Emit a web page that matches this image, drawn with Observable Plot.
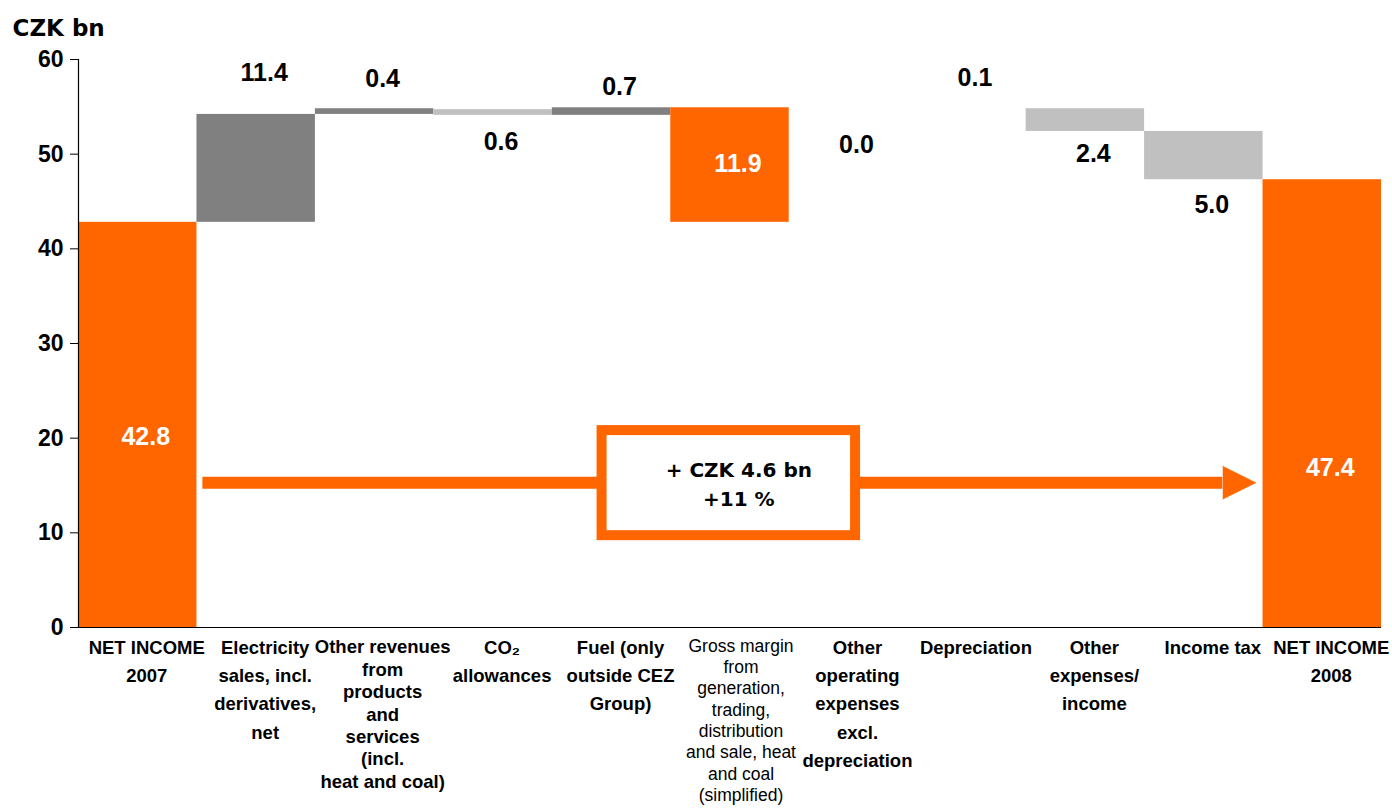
<!DOCTYPE html>
<html><head><meta charset="utf-8">
<script src="https://cdn.jsdelivr.net/npm/d3@7"></script>
<script src="https://cdn.jsdelivr.net/npm/@observablehq/plot@0.6"></script>
<style>
html,body{margin:0;padding:0;background:#fff;}
#chart svg{display:block;}
</style></head><body><div id="chart"></div>
<script>
// ---- data ----
const categories = [
  "NET INCOME\n2007",
  "Electricity\nsales, incl.\nderivatives,\nnet",
  "Other revenues\nfrom\nproducts\nand\nservices\n(incl.\nheat and coal)",
  "CO\u2082\nallowances",
  "Fuel (only\noutside CEZ\nGroup)",
  "Gross margin\nfrom\ngeneration,\ntrading,\ndistribution\nand sale, heat\nand coal\n(simplified)",
  "Other\noperating\nexpenses\nexcl.\ndepreciation",
  "Depreciation",
  "Other\nexpenses/\nincome",
  "Income tax",
  "NET INCOME\n2008"
];
const kinds = ["total","increase","increase","decrease","increase","total","none","none","decrease","decrease","total"];
const barLow  = [0,    42.8, 54.2, 54.1, 54.1, 42.8, null, null, 52.4, 47.3, 0];
const barHigh = [42.8, 54.2, 54.8, 54.7, 54.9, 54.9, null, null, 54.8, 52.4, 47.3];
const valueLabels = ["42.8","11.4","0.4","0.6","0.7","11.9","0.0","0.1","2.4","5.0","47.4"];
const labelY = [20.1, 58.6, 57.9, 51.3, 57.1, 49.0, 51.0, 58.0, 50.0, 44.6, 16.8];
const yTicks = [0, 10, 20, 30, 40, 50, 60];
const unitLabel = "CZK bn";
const changeLines = ["+ CZK 4.6 bn", "+11 %"];
// annotation (in data units)
const arrowY = 15.3, arrowFrom = 1.05, arrowHeadBase = 9.66, arrowTip = 9.94, arrowHalf = 1.74;
const boxX1 = 4.42, boxX2 = 6.56, boxY1 = 9.7, boxY2 = 20.8;

// ---- styling ----
const ORANGE = "#FF6600", DARK = "#808080", LIGHT = "#C0C0C0";
const colorOf = {total: ORANGE, increase: DARK, decrease: LIGHT};
const FONT = "'Liberation Sans', Arial, sans-serif";
const WIDE = "'DejaVu Sans', 'Liberation Sans', sans-serif";

const bars = categories.map((c, i) => ({i, kind: kinds[i], low: barLow[i], high: barHigh[i]}))
  .filter(d => d.low != null);
const vlabels = valueLabels.map((t, i) => ({
  i, t, y: labelY[i],
  inside: barLow[i] != null && labelY[i] > barLow[i] && labelY[i] < barHigh[i]
}));
const cats = categories.map((c, i) => ({i, c}));
const denseIdx = [2], plainIdx = [5];
const boldCats = cats.filter(d => !denseIdx.includes(d.i) && !plainIdx.includes(d.i));
const denseCats = cats.filter(d => denseIdx.includes(d.i));
const plainCats = cats.filter(d => plainIdx.includes(d.i));

const chart = Plot.plot({
  width: 1392, height: 810,
  marginLeft: 78, marginRight: 11, marginTop: 59, marginBottom: 183,
  x: {domain: [0, categories.length], axis: null},
  y: {domain: [0, 60], axis: null},
  color: {type: "identity"},
  style: {fontFamily: FONT, background: "white", color: "black"},
  marks: [
    Plot.rect(bars, {x1: "i", x2: d => d.i + 1, y1: "low", y2: "high", fill: d => colorOf[d.kind]}),
    Plot.ruleX([0], {y1: 0, y2: 60, stroke: "black", strokeWidth: 1.2}),
    Plot.ruleY([0], {x1: 0, x2: categories.length, stroke: "black", strokeWidth: 1.2}),
    Plot.axisY(yTicks, {tickSize: 8, tickPadding: 7, fontSize: 23, fontWeight: "bold", label: null, tickFormat: d => String(d), stroke: "black", fill: "black"}),
    Plot.text([unitLabel], {frameAnchor: "top-left", dx: -66, dy: -31, textAnchor: "start", lineAnchor: "middle", fontSize: 23, fontWeight: "bold", fontFamily: WIDE, fill: "black"}),
    // value labels
    Plot.text(vlabels, {x: d => d.i + 0.5, y: "y", text: "t", dx: 8, fontSize: 25, fontWeight: "bold", fill: d => d.inside ? "white" : "black"}),
    // change arrow
    Plot.ruleY([arrowY], {x1: arrowFrom, x2: arrowHeadBase, stroke: ORANGE, strokeWidth: 12}),
    Plot.line([[arrowHeadBase, arrowY + arrowHalf], [arrowTip, arrowY], [arrowHeadBase, arrowY - arrowHalf]],
      {x: d => d[0], y: d => d[1], fill: ORANGE, stroke: ORANGE, strokeWidth: 0.5}),
    Plot.rect([0], {x1: boxX1, x2: boxX2, y1: boxY1, y2: boxY2, fill: "white", stroke: ORANGE, strokeWidth: 10}),
    Plot.text([changeLines.join("\n")], {x: (boxX1 + boxX2) / 2, y: (boxY1 + boxY2) / 2, dx: 10, dy: -1, lineHeight: 1.45, fontSize: 20, fontWeight: "bold", fontFamily: WIDE, fill: "black"}),
    // category labels
    Plot.text(boldCats, {x: d => d.i + 0.5, text: "c", frameAnchor: "bottom", lineAnchor: "top", dy: 6, dx: 9, fontSize: 18.5, fontWeight: "bold", lineHeight: 1.53, fill: "black"}),
    Plot.text(denseCats, {x: d => d.i + 0.5, text: "c", frameAnchor: "bottom", lineAnchor: "top", dy: 10, dx: 8, fontSize: 18.5, fontWeight: "bold", lineHeight: 1.21, fill: "black"}),
    Plot.text(plainCats, {x: d => d.i + 0.5, text: "c", frameAnchor: "bottom", lineAnchor: "top", dy: 9, dx: 11, fontSize: 17.5, fontWeight: "normal", lineHeight: 1.22, fill: "black"})
  ]
});
document.getElementById("chart").appendChild(chart);
</script>
</body></html>
